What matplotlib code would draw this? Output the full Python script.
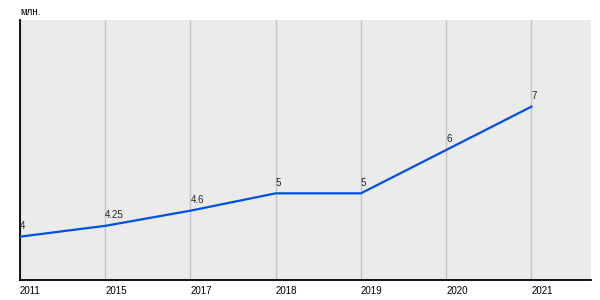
import matplotlib.pyplot as plt
import numpy as np

plt.rcParams['font.family'] = ['Liberation Sans', 'DejaVu Sans']

years = ['2011', '2015', '2017', '2018', '2019', '2020', '2021']
values = [4, 4.25, 4.6, 5, 5, 6, 7]
value_labels = ['4', '4.25', '4.6', '5', '5', '6', '7']

fig = plt.figure(figsize=(6, 3), dpi=100)
ax = fig.add_axes([20/600, 20/300, 571/600, 260/300])
ax.set_facecolor('#ebebeb')

x = np.arange(len(years))
ax.plot(x, values, color='#0050e6', linewidth=1.6, zorder=3)
for xi, v, lab in zip(x, values, value_labels):
    ax.annotate(lab, (xi, v), xytext=(0, 4), textcoords='offset points',
                ha='left', va='bottom', fontsize=7, color='#222222')

ax.set_xlim(0, 6.7)
ax.set_ylim(3, 9)
ax.set_xticks(x)
ax.set_xticklabels(years, ha='left', fontsize=7)
ax.tick_params(axis='x', length=0, pad=4)
ax.set_yticks([])
ax.grid(axis='x', color='#c4c4c4', linewidth=1)
ax.set_axisbelow(True)
for s in ['top', 'right']:
    ax.spines[s].set_visible(False)
ax.spines['left'].set_linewidth(1.3)
ax.spines['bottom'].set_linewidth(1.3)

fig.text(20/600, 1 - 12/300, 'млн.', fontsize=7, ha='left', va='center')

plt.savefig('out.png', dpi=100)
